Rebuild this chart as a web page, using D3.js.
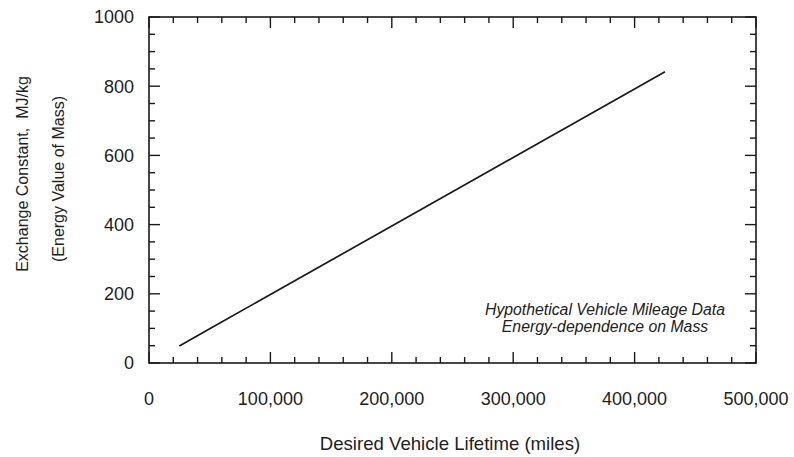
<!DOCTYPE html>
<html>
<head>
<meta charset="utf-8">
<script src="https://cdn.jsdelivr.net/npm/d3@7"></script>
<style>
  html, body { margin: 0; padding: 0; background: #fff; }
  svg { display: block; font-family: "Liberation Sans", Arial, sans-serif; }
</style>
</head>
<body>
<svg id="chart" width="794" height="457"></svg>
<script>
// Vehicle lifetime (miles) and the corresponding exchange constant (MJ/kg)
const lifetimeMiles = [25000, 50000, 100000, 150000, 200000, 250000, 300000, 350000, 400000, 425000];
const exchangeConstant = [49, 99, 198, 297, 396, 495, 594, 693, 792, 842];

const xTickValues = [0, 100000, 200000, 300000, 400000, 500000];
const yTickValues = [0, 200, 400, 600, 800, 1000];
const noteLines = ["Hypothetical Vehicle Mileage Data", "Energy-dependence on Mass"];

const svg = d3.select("#chart");
const plot = { left: 149, right: 756, top: 17, bottom: 363 };
const ink = "#1a1a1a";

const x = d3.scaleLinear().domain([0, 500000]).range([plot.left, plot.right]);
const y = d3.scaleLinear().domain([0, 1000]).range([plot.bottom, plot.top]);

const xMinor = d3.range(0, 500001, 20000).filter(v => v % 100000 !== 0);
const yMinor = d3.range(0, 1001, 50).filter(v => v % 200 !== 0);

// Frame
svg.append("rect")
  .attr("x", plot.left).attr("y", plot.top)
  .attr("width", plot.right - plot.left).attr("height", plot.bottom - plot.top)
  .attr("fill", "none").attr("stroke", ink).attr("stroke-width", 1.6);

const major = 11, minor = 6;
const ticks = svg.append("g").attr("stroke", ink).attr("stroke-width", 1.4);

// Inward ticks on all four sides
function xTicks(vals, len) {
  vals.forEach(v => {
    ticks.append("line").attr("x1", x(v)).attr("x2", x(v))
      .attr("y1", plot.bottom).attr("y2", plot.bottom - len);
    ticks.append("line").attr("x1", x(v)).attr("x2", x(v))
      .attr("y1", plot.top).attr("y2", plot.top + len);
  });
}
function yTicks(vals, len) {
  vals.forEach(v => {
    ticks.append("line").attr("y1", y(v)).attr("y2", y(v))
      .attr("x1", plot.left).attr("x2", plot.left + len);
    ticks.append("line").attr("y1", y(v)).attr("y2", y(v))
      .attr("x1", plot.right).attr("x2", plot.right - len);
  });
}
xTicks(xTickValues, major); xTicks(xMinor, minor);
yTicks(yTickValues, major); yTicks(yMinor, minor);

// Tick labels
const fmt = d3.format(",");
svg.append("g").selectAll("text").data(xTickValues).join("text")
  .attr("x", d => x(d)).attr("y", 405)
  .attr("text-anchor", "middle").attr("font-size", 18).attr("fill", "#222")
  .text(d => fmt(d));

svg.append("g").selectAll("text").data(yTickValues).join("text")
  .attr("x", 134).attr("y", d => y(d)).attr("dy", "0.35em")
  .attr("text-anchor", "end").attr("font-size", 18).attr("fill", "#222")
  .text(d => d);

// Data line
const line = d3.line().x((d, i) => x(lifetimeMiles[i])).y(d => y(d));
svg.append("path").datum(exchangeConstant)
  .attr("d", line).attr("fill", "none")
  .attr("stroke", ink).attr("stroke-width", 1.7);

// Axis titles
svg.append("text")
  .attr("x", 450).attr("y", 450).attr("text-anchor", "middle")
  .attr("font-size", 18.6).attr("fill", "#222")
  .text("Desired Vehicle Lifetime (miles)");

svg.append("text")
  .attr("transform", "translate(28,174) rotate(-90)")
  .attr("text-anchor", "middle").attr("font-size", 16).attr("fill", "#222")
  .attr("xml:space", "preserve")
  .text("Exchange Constant,  MJ/kg");

svg.append("text")
  .attr("transform", "translate(64,179) rotate(-90)")
  .attr("text-anchor", "middle").attr("font-size", 16).attr("fill", "#222")
  .text("(Energy Value of Mass)");

// Note inside the plot
svg.append("g").selectAll("text").data(noteLines).join("text")
  .attr("x", 605).attr("y", (d, i) => 315 + i * 16.5)
  .attr("text-anchor", "middle").attr("font-size", 15.8)
  .attr("font-style", "italic").attr("fill", "#222")
  .text(d => d);
</script>
</body>
</html>
